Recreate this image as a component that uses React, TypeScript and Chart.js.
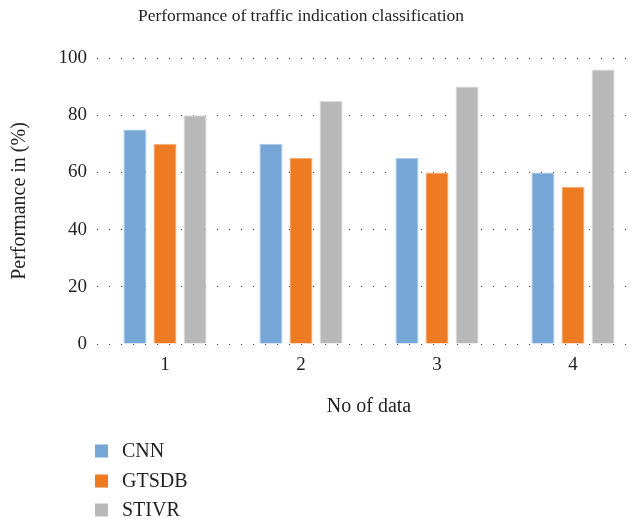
import React, { useEffect, useRef } from "react";
import { Chart, registerables } from "chart.js";

Chart.register(...registerables);

const categories = ["1", "2", "3", "4"];
const seriesNames = ["CNN", "GTSDB", "STIVR"];
const cnnValues = [75, 70, 65, 60];
const gtsdbValues = [70, 65, 60, 55];
const stivrValues = [80, 85, 90, 96];
const yTicks = [0, 20, 40, 60, 80, 100];

const FONT = "'Liberation Serif', 'Times New Roman', serif";
const TEXT = "#231f20";

const customText = {
  id: "customText",
  afterDraw(chart: any) {
    const ctx = chart.ctx;
    ctx.save();
    ctx.fillStyle = TEXT;
    ctx.font = `17.5px ${FONT}`;
    ctx.textAlign = "center";
    ctx.textBaseline = "middle";
    ctx.fillText("Performance of traffic indication classification", 301, 16);
    // legend
    ctx.font = `20px ${FONT}`;
    const ys = [451, 481, 510];
    chart.data.datasets.forEach((ds: any, i: number) => {
      ctx.fillStyle = ds.backgroundColor;
      ctx.fillRect(95, ys[i] - 6.5, 13, 13);
      ctx.fillStyle = TEXT;
      ctx.textAlign = "left";
      ctx.fillText(ds.label, 122, ys[i] + 1);
    });
    ctx.restore();
  },
};

export default function App() {
  const ref = useRef<HTMLCanvasElement>(null);
  useEffect(() => {
    if (!ref.current) return;
    const chart = new Chart(ref.current, {
      type: "bar",
      data: {
        labels: categories,
        datasets: [
          { label: seriesNames[0], data: cnnValues, backgroundColor: "#75a6d6", borderColor: "#a9c8e8", borderWidth: 1 },
          { label: seriesNames[1], data: gtsdbValues, backgroundColor: "#ee7b22", borderColor: "#f5ad77", borderWidth: 1 },
          { label: seriesNames[2], data: stivrValues, backgroundColor: "#b8b8b8", borderColor: "#dcdcdc", borderWidth: 1 },
        ],
      },
      options: {
        animation: false,
        responsive: false,
        devicePixelRatio: 1,
        layout: { padding: { top: 58, left: 1, right: 3, bottom: 100 } },
        datasets: { bar: { categoryPercentage: 0.663, barPercentage: 0.767 } },
        plugins: { legend: { display: false }, title: { display: false }, tooltip: { enabled: false } },
        scales: {
          x: {
            grid: { display: false, drawTicks: false },
            border: { display: false },
            ticks: { font: { family: FONT, size: 19 }, color: TEXT, padding: 10 },
            title: { display: true, text: "No of data", font: { family: FONT, size: 20 }, color: TEXT },
            afterFit: (s: any) => { s.height = 79; },
          },
          y: {
            min: 0,
            max: 100,
            afterBuildTicks: (s: any) => { s.ticks = yTicks.map((v) => ({ value: v })); },
            grid: { color: "#444", lineWidth: 1, drawTicks: false },
            border: { display: false, dash: [1, 11] },
            ticks: { font: { family: FONT, size: 19 }, color: TEXT, padding: 10 },
            title: { display: true, text: "Performance in (%)", font: { family: FONT, size: 20 }, color: TEXT, padding: { top: 7, bottom: 4 } },
            afterFit: (s: any) => { s.width = 96; },
          },
        },
      },
      plugins: [customText],
    });
    return () => chart.destroy();
  }, []);
  return (
    <div style={{ position: "fixed", left: 0, top: 0, width: 636, height: 523, overflow: "hidden", background: "#fff" }}>
      <canvas ref={ref} width={644} height={523} style={{ width: 644, height: 523, display: "block" }} />
    </div>
  );
}
